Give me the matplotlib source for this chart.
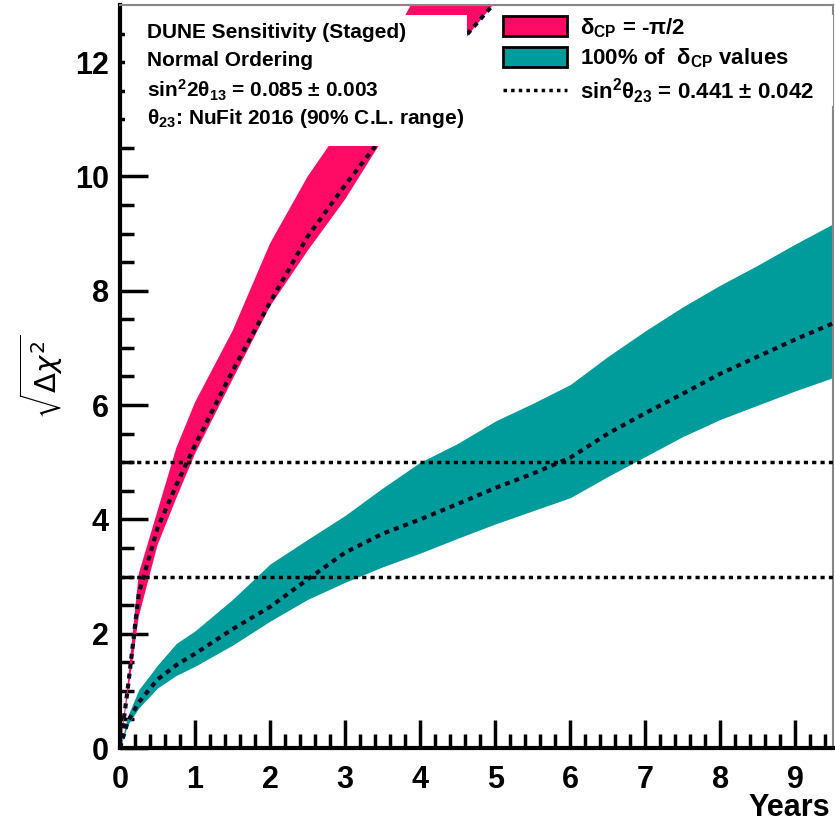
import numpy as np
import matplotlib
matplotlib.use("Agg")
import matplotlib.pyplot as plt
from matplotlib.patches import Patch, Rectangle
from matplotlib.lines import Line2D

# --- data ---
# delta_CP = -pi/2 band
years_pink = [0, 0.1, 0.25, 0.5, 0.75, 1.0, 1.5, 2.0, 2.5, 3.0, 3.5, 4.0, 4.5, 5.0]
pink_hi = [0, 1.1, 3.05, 4.15, 5.25, 6.05, 7.3, 8.83, 10.0, 10.95, 12.1, 13.3, 14.4, 15.4]
pink_lo = [0, 0.9, 2.3, 3.55, 4.37, 5.15, 6.45, 7.73, 8.7, 9.6, 10.65, 11.45, 12.25, 13.05]
pink_mid = [0, 1.0, 2.7, 3.85, 4.6, 5.3, 6.6, 7.8, 8.95, 9.85, 10.7, 11.6, 12.3, 13.05]

# 100% of delta_CP values band
years_teal = [0, 0.1, 0.25, 0.5, 0.75, 1.0, 1.5, 2.0, 2.5, 3.0, 3.5, 4.0, 4.5,
              5.0, 5.5, 6.0, 6.5, 7.0, 7.5, 8.0, 8.5, 9.0, 9.5]
teal_hi = [0, 0.55, 1.02, 1.45, 1.83, 2.05, 2.6, 3.22, 3.65, 4.07, 4.55, 5.0, 5.33,
           5.72, 6.03, 6.36, 6.85, 7.3, 7.72, 8.1, 8.45, 8.82, 9.17]
teal_lo = [0, 0.4, 0.7, 1.05, 1.27, 1.43, 1.8, 2.22, 2.6, 2.9, 3.17, 3.41, 3.67,
           3.92, 4.15, 4.38, 4.75, 5.1, 5.45, 5.75, 6.0, 6.25, 6.48]
teal_mid = [0, 0.45, 0.8, 1.2, 1.45, 1.65, 2.08, 2.47, 2.95, 3.42, 3.75, 4.0, 4.27,
            4.55, 4.8, 5.08, 5.5, 5.86, 6.2, 6.55, 6.85, 7.15, 7.43]

sigma_lines = [3, 5]

pink = '#ff0a64'
teal = '#009c9c'

plt.rcParams['font.family'] = ['Liberation Sans', 'DejaVu Sans']
plt.rcParams['mathtext.fontset'] = 'custom'
plt.rcParams['mathtext.rm'] = 'Liberation Sans:bold'
plt.rcParams['mathtext.it'] = 'Liberation Sans:bold'
plt.rcParams['mathtext.bf'] = 'Liberation Sans:bold'

fig = plt.figure(figsize=(8.35, 8.24), dpi=100)
ax = fig.add_axes([120/835, 76/824, 713/835, 743/824])

ax.fill_between(years_pink, pink_lo, pink_hi, color=pink, lw=0, zorder=2)
ax.fill_between(years_teal, teal_lo, teal_hi, color=teal, lw=0, zorder=2)
ax.plot(years_pink, pink_mid, color='#0a0a1e', ls=(0, (1.2, 1.2)), lw=3, zorder=3)
ax.plot(years_teal, teal_mid, color='#0a0a1e', ls=(0, (1.2, 1.2)), lw=3, zorder=3)
for s in sigma_lines:
    ax.axhline(s, color='black', ls=(0, (1.2, 1.2)), lw=2.5, zorder=3)

ax.set_xlim(0, 9.5)
ax.set_ylim(0, 13)
ax.set_xticks(range(0, 10))
ax.set_yticks(range(0, 13, 2))
ax.set_xticks(np.arange(0, 9.5, 0.2), minor=True)
ax.set_yticks(np.arange(0, 13, 0.5), minor=True)
ax.tick_params(which='major', direction='in', length=20, width=2.5,
               labelsize=22, top=False, right=False)
ax.tick_params(which='minor', direction='in', length=10, width=2.5, top=False, right=False)
ax.tick_params(axis='x', pad=12)
ax.tick_params(axis='y', pad=8)
for lab in ax.get_xticklabels() + ax.get_yticklabels():
    lab.set_fontweight('bold')
for side in ['left', 'bottom']:
    ax.spines[side].set_linewidth(3)
for side in ['top', 'right']:
    ax.spines[side].set_linewidth(1.5)
    ax.spines[side].set_color('#888888')

# white boxes of the text panels
ax.add_patch(Rectangle((0.07, 10.54), 4.56, 2.28, facecolor='white', edgecolor='none', zorder=4))
ax.add_patch(Rectangle((5.13, 11.24), 4.37, 1.58, facecolor='white', edgecolor='none', zorder=4))

info = ['DUNE Sensitivity (Staged)',
        'Normal Ordering',
        r'sin$^{2}$2θ$_{13}$ = 0.085 ± 0.003',
        r'θ$_{23}$: NuFit 2016 (90% C.L. range)']
for i, t in enumerate(info):
    fig.text(147/835, 1 - (32 + 29*i)/824, t, fontsize=15, fontweight='bold',
             va='center', ha='left', zorder=6)

handles = [Patch(facecolor=pink, edgecolor='black', lw=2),
           Patch(facecolor=teal, edgecolor='black', lw=2),
           Line2D([], [], color='black', ls=(0, (1, 1.2)), lw=2.5)]
labels = [r'δ$_{CP}$ = -π/2', r'100% of  δ$_{CP}$ values', r'sin$^{2}$θ$_{23}$ = 0.441 ± 0.042']
leg = ax.legend(handles, labels, loc='upper left', bbox_to_anchor=(503/835, 1 - 16/824),
                bbox_transform=fig.transFigure, frameon=False,
                prop={'size': 16, 'weight': 'bold'},
                handlelength=2.9, handleheight=1.0, labelspacing=0.3,
                handletextpad=0.55, borderpad=0, borderaxespad=0)
leg.set_zorder(6)

fig.text(41/835, 1 - 377/824, r'$\sqrt{\Delta\chi^2}$', rotation=90, fontsize=21,
         ha='center', va='center', math_fontfamily='dejavusans')
fig.text(830/835, 1 - 808/824, 'Years', fontsize=22, fontweight='bold', ha='right', va='center')

fig.savefig('out.png', dpi=100)
